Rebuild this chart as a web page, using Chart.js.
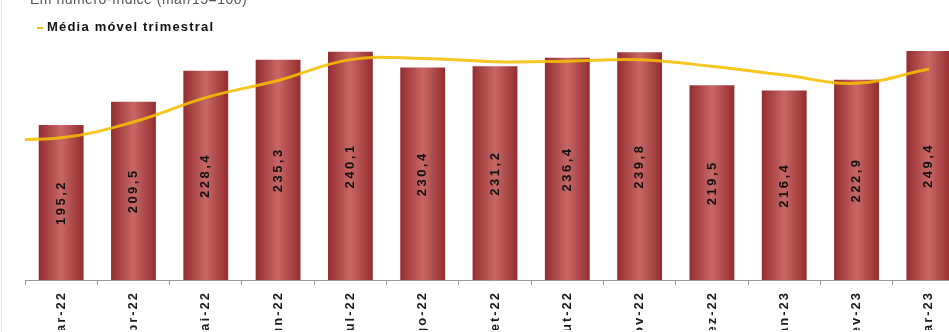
<!DOCTYPE html>
<html lang="pt">
<head>
<meta charset="utf-8">
<title>Índice mensal e média móvel trimestral</title>
<script src="https://cdn.jsdelivr.net/npm/chart.js@4.4.1/dist/chart.umd.min.js"></script>
<style>
  html, body { margin: 0; padding: 0; background: #fff; width: 949px; height: 332px; overflow: hidden; }
  #wrap { position: relative; width: 949px; height: 332px; overflow: hidden; filter: blur(0.4px); }
  #grafico { position: absolute; left: 0; top: 0; }
  .borda { position: absolute; left: 1px; top: 0; width: 1px; height: 332px; background: #e2e2e2; }
  .titulo { position: absolute; left: 30px; top: -9px; font: 14px "Liberation Sans", Arial, sans-serif; color: #555; letter-spacing: 0.5px; white-space: nowrap; }
  .legenda { position: absolute; left: 37px; top: 19px; font: bold 13px "Liberation Sans", Arial, sans-serif; color: #111; letter-spacing: 1.2px; white-space: nowrap; }
  .legenda i { display: inline-block; width: 6px; height: 2px; background: #f0c419; vertical-align: middle; margin-right: 4px; }
</style>
</head>
<body>
<div id="wrap">
  <canvas id="grafico" width="975" height="380"></canvas>
  <div class="borda"></div>
  <div class="titulo">Em número-índice (mar/15=100)</div>
  <div class="legenda"><i></i>Média móvel trimestral</div>
</div>
<script>
// mês anterior ao primeiro exibido (só a média móvel tem valor)
const mesAnterior = "fev-22";

// meses exibidos no eixo
const meses = ["mar-22", "abr-22", "mai-22", "jun-22", "jul-22", "ago-22", "set-22",
               "out-22", "nov-22", "dez-22", "jan-23", "fev-23", "mar-23"];

// índice mensal (barras)
const indice = [195.2, 209.5, 228.4, 235.3, 240.1, 230.4, 231.2, 236.4, 239.8, 219.5, 216.4, 222.9, 249.4];

// média móvel trimestral, de fev-22 a mar-23
const mediaMovel = [186.5, 187.3, 197.0, 212.0, 222.5, 235.3, 236.0, 234.0, 234.3, 235.2, 231.2, 225.8, 220.8, 229.6];

// faixa do eixo vertical
const eixoMin = 100;
const eixoMax = 240.6;

const rotulos = [mesAnterior, ...meses];
const barras = [null, ...indice];

// rótulos com o valor dentro de cada barra
const rotulosBarras = {
    id: "rotulosBarras",
    beforeDraw(chart) {
        chart.ctx.letterSpacing = "2px";
    },
    afterDatasetsDraw(chart) {
        const { ctx, chartArea } = chart;
        const meta = chart.getDatasetMeta(0);
        const valores = chart.data.datasets[0].data;
        ctx.save();
        ctx.font = 'bold 13px "Liberation Sans", Arial, sans-serif';
        ctx.letterSpacing = "2.5px";
        ctx.fillStyle = "#111";
        ctx.textAlign = "center";
        ctx.textBaseline = "middle";
        meta.data.forEach((bar, i) => {
            if (valores[i] === null) return;
            // parte visível da barra, dentro da área do gráfico
            const topo = Math.max(bar.y, chartArea.top);
            const base = Math.min(bar.base, chartArea.bottom);
            ctx.save();
            ctx.translate(bar.x, (topo + base) / 2);
            ctx.rotate(-Math.PI / 2);
            ctx.fillText(valores[i].toFixed(1).replace(".", ","), 0, 0);
            ctx.restore();
        });
        ctx.restore();
    }
};

// degradê horizontal de cada barra
function corBarra(c) {
    const chart = c.chart;
    if (!chart.chartArea || c.dataIndex === undefined) return "#a83a3a";
    const cx = chart.scales.x.getPixelForValue(c.dataIndex);
    const g = chart.ctx.createLinearGradient(cx - 23, 0, cx + 23, 0);
    g.addColorStop(0, "#932b2d");
    g.addColorStop(0.5, "#c76866");
    g.addColorStop(1, "#932b2d");
    return g;
}

const ctx = document.getElementById("grafico").getContext("2d");

new Chart(ctx, {
    type: "bar",
    data: {
        labels: rotulos,
        datasets: [
            {
                label: "Índice",
                data: barras,
                backgroundColor: corBarra,
                barPercentage: 0.62,
                categoryPercentage: 1,
                grouped: false,
                clip: 0,
                order: 1
            },
            {
                type: "line",
                label: "Média móvel trimestral",
                data: mediaMovel,
                borderColor: "rgba(246,190,0,0.88)",
                borderWidth: 3,
                pointRadius: 0,
                tension: 0.4,
                order: 0
            }
        ]
    },
    options: {
        responsive: false,
        animation: false,
        devicePixelRatio: 1,
        layout: { padding: { left: 25, top: 51, right: 10, bottom: 50 } },
        scales: {
            x: {
                min: meses[0],
                offset: true,
                grid: { offset: true, drawOnChartArea: false, tickLength: 5, color: "#9a9a9a" },
                border: { color: "#9a9a9a" },
                ticks: {
                    maxRotation: 90,
                    minRotation: 90,
                    padding: 6,
                    color: "#1a1a1a",
                    font: { family: "Liberation Sans", size: 13, weight: "bold" }
                },
                afterFit(scale) { scale.height = 50; }
            },
            y: { display: false, min: eixoMin, max: eixoMax }
        },
        plugins: {
            legend: { display: false },
            tooltip: { enabled: false }
        }
    },
    plugins: [rotulosBarras]
});
</script>
</body>
</html>
